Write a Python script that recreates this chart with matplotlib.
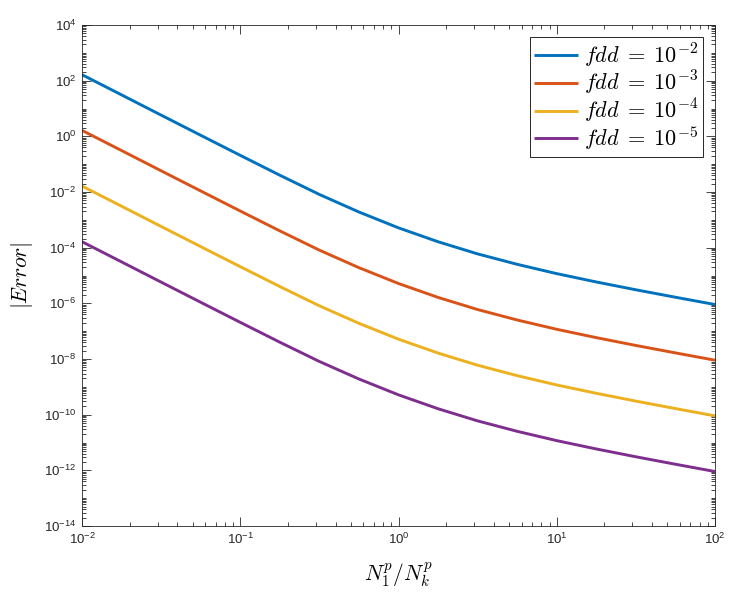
import numpy as np
import matplotlib
matplotlib.use("Agg")
import matplotlib.pyplot as plt
from matplotlib.ticker import LogLocator, FixedLocator, NullFormatter
from matplotlib.font_manager import FontProperties

# ---- data ----
ratio = [1.00e-2, 1.78e-2, 3.16e-2, 5.62e-2, 1.00e-1, 1.78e-1, 3.16e-1, 5.62e-1,
         1.00e0, 1.78e0, 3.16e0, 5.62e0, 1.00e1, 1.78e1, 3.16e1, 5.62e1, 1.00e2]
err_fdd_1e2 = [1.637e2, 3.076e1, 5.794e0, 1.094e0, 2.075e-1, 4.00e-2, 8.166e-3, 1.914e-3,
               5.152e-4, 1.629e-4, 5.984e-5, 2.523e-5, 1.167e-5, 5.848e-6, 3.069e-6, 1.656e-6, 9.06e-7]
err_fdd_1e3 = [1.637e0, 3.076e-1, 5.794e-2, 1.094e-2, 2.075e-3, 4.00e-4, 8.166e-5, 1.914e-5,
               5.152e-6, 1.629e-6, 5.984e-7, 2.523e-7, 1.167e-7, 5.848e-8, 3.069e-8, 1.656e-8, 9.06e-9]
err_fdd_1e4 = [1.637e-2, 3.076e-3, 5.794e-4, 1.094e-4, 2.075e-5, 4.00e-6, 8.166e-7, 1.914e-7,
               5.152e-8, 1.629e-8, 5.984e-9, 2.523e-9, 1.167e-9, 5.848e-10, 3.069e-10, 1.656e-10, 9.06e-11]
err_fdd_1e5 = [1.637e-4, 3.076e-5, 5.794e-6, 1.094e-6, 2.075e-7, 4.00e-8, 8.166e-9, 1.914e-9,
               5.152e-10, 1.629e-10, 5.984e-11, 2.523e-11, 1.167e-11, 5.848e-12, 3.069e-12, 1.656e-12, 9.06e-13]
labels = [r"$fdd\;=\;10^{-2}$", r"$fdd\;=\;10^{-3}$", r"$fdd\;=\;10^{-4}$", r"$fdd\;=\;10^{-5}$"]
colors = ["#0072BD", "#D95319", "#EDB120", "#7E2F8E"]
xticks = [1e-2, 1e-1, 1e0, 1e1, 1e2]
yticks = [1e-14, 1e-12, 1e-10, 1e-8, 1e-6, 1e-4, 1e-2, 1e0, 1e2, 1e4]

# ---- style ----
plt.rcParams["font.family"] = ["Liberation Sans", "DejaVu Sans"]
plt.rcParams["mathtext.fontset"] = "custom"
plt.rcParams["mathtext.rm"] = "Liberation Sans"
plt.rcParams["mathtext.it"] = "Liberation Sans:italic"
plt.rcParams["mathtext.default"] = "it"
plt.rcParams["axes.unicode_minus"] = False

dark = "#262626"
fig = plt.figure(figsize=(7.48, 6.06), dpi=100)
ax = fig.add_axes([82/748, (606-526)/606, 633/748, 501/606])

series = [err_fdd_1e2, err_fdd_1e3, err_fdd_1e4, err_fdd_1e5]
for ys, lab, c in zip(series, labels, colors):
    ax.plot(ratio, ys, color=c, lw=2.1, label=lab, solid_capstyle="butt")

ax.set_xscale("log")
ax.set_yscale("log")
ax.set_xlim(1e-2, 1e2)
ax.set_ylim(1e-14, 1e4)

ax.xaxis.set_major_locator(FixedLocator(xticks))
ax.yaxis.set_major_locator(FixedLocator(yticks))
ax.xaxis.set_minor_locator(LogLocator(base=10, subs=np.arange(2, 10), numticks=100))
ax.yaxis.set_minor_locator(LogLocator(base=10, subs=np.arange(1, 10), numticks=200))
ax.xaxis.set_minor_formatter(NullFormatter())
ax.yaxis.set_minor_formatter(NullFormatter())

ax.tick_params(which="both", direction="in", top=True, right=True, colors=dark,
               labelcolor=dark, width=0.6)
ax.tick_params(which="major", length=6.5, labelsize=9.5, pad=4)
ax.tick_params(which="minor", length=3.2)
for s in ax.spines.values():
    s.set_color(dark)
    s.set_linewidth(0.6)

fp_lab = FontProperties(size=15.5, math_fontfamily="cm")
ax.set_xlabel(r"$N_1^p/N_k^p$", fontproperties=fp_lab, color="black")
ax.set_ylabel(r"$|Error|$", fontproperties=fp_lab, color="black")
ax.xaxis.set_label_coords(0.5, (526-575)/501)
ax.xaxis.label.set_va("center")
ax.yaxis.set_label_coords((22-82)/633, 0.5)
ax.yaxis.label.set_va("center")

leg = ax.legend(loc="upper right", bbox_to_anchor=((703.3-82)/633, (526-37.3)/501),
                borderaxespad=0, prop=FontProperties(size=16, math_fontfamily="cm"),
                frameon=True, fancybox=False, framealpha=1, edgecolor=dark,
                handlelength=1.95, handletextpad=0.3, labelspacing=-0.02,
                borderpad=0.2)
leg.get_frame().set_linewidth(0.7)

fig.savefig("out.png", dpi=100)
